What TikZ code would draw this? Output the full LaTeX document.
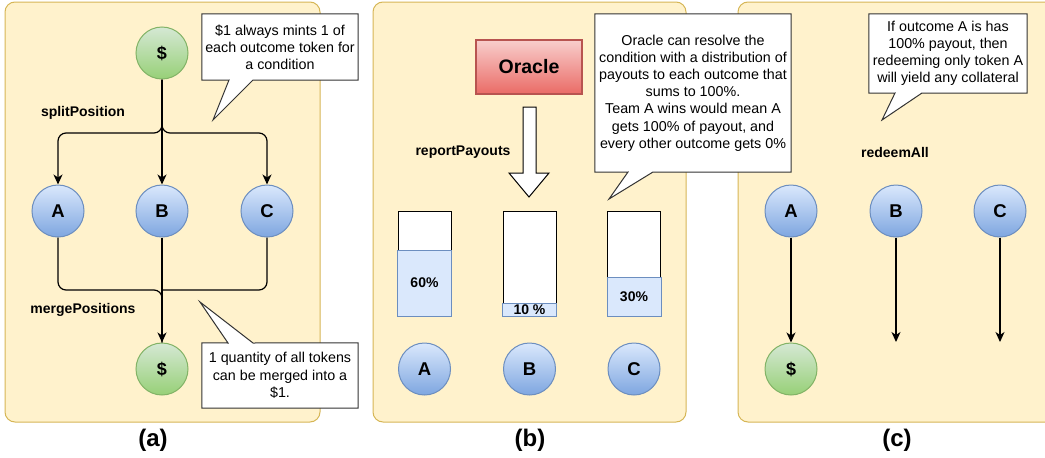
\documentclass[tikz,border=0pt]{standalone}
\usepackage{fontspec}
\setmainfont{Liberation Sans}
\usetikzlibrary{arrows.meta,positioning}
\definecolor{panelfill}{HTML}{FFF2CC}
\definecolor{paneldraw}{HTML}{D6B656}
\definecolor{greentop}{HTML}{D5E8D4}
\definecolor{greenbot}{HTML}{97D077}
\definecolor{greendraw}{HTML}{82B366}
\definecolor{bluetop}{HTML}{DAE8FC}
\definecolor{bluebot}{HTML}{7EA6E0}
\definecolor{bluedraw}{HTML}{6C8EBF}
\definecolor{redtop}{HTML}{F8CECC}
\definecolor{redbot}{HTML}{EA6B66}
\definecolor{reddraw}{HTML}{B85450}
\tikzset{
  panel/.style={draw=paneldraw, fill=panelfill, rounded corners=10pt, line width=1pt},
  coin/.style={circle, minimum size=52pt, inner sep=0pt, draw=greendraw, line width=1pt,
    top color=greentop, bottom color=greenbot, font=\bfseries\fontsize{18}{18}\selectfont},
  token/.style={circle, minimum size=52pt, inner sep=0pt, draw=bluedraw, line width=1pt,
    top color=bluetop, bottom color=bluebot, font=\bfseries\fontsize{18.5}{18.5}\selectfont},
  oraclebox/.style={draw=reddraw, line width=1.5pt, top color=redtop, bottom color=redbot,
    minimum width=106pt, minimum height=54pt, font=\bfseries\fontsize{19.5}{19.5}\selectfont},
  bar/.style={draw=black, fill=white, line width=1pt, minimum width=53pt, minimum height=105pt, inner sep=0pt},
  share/.style={draw=bluedraw, fill=bluetop, line width=1pt},
  note/.style={align=center, inner sep=0pt, font=\fontsize{14.3}{17.2}\selectfont},
  notebox/.style={draw=black!80, fill=white, line width=1pt},
  fname/.style={font=\bfseries\fontsize{14}{14}\selectfont},
  caption/.style={font=\bfseries\fontsize{24}{24}\selectfont},
  link/.style={->, line width=1.2pt},
}
\begin{document}
\begin{tikzpicture}[x=1pt, y=-1pt, >={Stealth[length=10pt,width=9pt,inset=3pt]}]
  \useasboundingbox (0,0) rectangle (1045,458);
  % panels
  \draw[panel] (5,2) rectangle (320,422);
  \draw[panel] (373,2) rectangle (686,422);
  \draw[panel] (738,2) rectangle (1060,422);

  % (a) split and merge
  \node[coin] (a0_0) at (162,53) {\$};
  \node[token] (a1_0) at (58,211) {A};
  \node[token] (a1_1) at (162,211) {B};
  \node[token] (a1_2) at (267,211) {C};
  \node[coin] (a2_0) at (162,369) {\$};
  \coordinate (asplit) at (162,133);
  \coordinate (amerge) at (162,290);
  \node[fname] (a_split) at (83,113) {splitPosition};
  \node[fname] (a_merge) at (83,310) {mergePositions};
  \draw[link, rounded corners=8pt] (a0_0.south) -- (asplit) -| (a1_0.north);
  \draw[link, rounded corners=8pt] (a0_0.south) -- (asplit) -| (a1_2.north);
  \draw[link] (a0_0.south) -- (a1_1.north);
  \draw[rounded corners=8pt, line width=1.2pt] (a1_0.south) |- (amerge) -- (a2_0.north);
  \draw[rounded corners=8pt, line width=1.2pt] (a1_2.south) |- (amerge);
  \draw[link] (a1_1.south) -- (a2_0.north);
  % (a) notes
  \node[note, minimum width=156pt, minimum height=66pt] (a_note0) at (280,47) {};
  \draw[notebox] (a_note0.north west) -- (a_note0.north east) -- (a_note0.south east)
    -- (253,80) -- (213,120) -- (229,80) -- (a_note0.south west) -- cycle;
  \node[note] at (a_note0) {\$1 always mints 1 of\\each outcome token for\\a condition};
  \node[note, minimum width=156pt, minimum height=65pt] (a_note1) at (280,375.5) {};
  \draw[notebox] (a_note1.south west) -- (a_note1.north west) -- (228,343) -- (200,302)
    -- (253,343) -- (a_note1.north east) -- (a_note1.south east) -- cycle;
  \node[note] at (a_note1) {1 quantity of all tokens\\can be merged into a\\\$1.};
  \node[caption] (a_cap) at (153,440) {(a)};

  % (b) oracle payouts
  \node[oraclebox] (b0_0) at (529,67) {Oracle};
  \draw[fill=white, line width=1pt] (523,107) -- (536,107) -- (536,173) -- (549,173)
    -- (529,197) -- (509,173) -- (523,173) -- cycle;
  \node[fname] (b_report) at (463,152) {reportPayouts};
  \node[bar] (b1_0) at (424.5,263.5) {};
  \node[bar] (b1_1) at (529.5,263.5) {};
  \node[bar] (b1_2) at (634,263.5) {};
  \draw[share] (b1_0.south west) rectangle (b1_0.east |- 0,250);
  \draw[share] (b1_1.south west) rectangle (b1_1.east |- 0,303);
  \draw[share] (b1_2.south west) rectangle (b1_2.east |- 0,277);
  \node[fname] at (424.5,283) {60\%};
  \node[fname] at (529.5,310) {10 \%};
  \node[fname] at (634,297) {30\%};
  \node[token] (b2_0) at (424.5,369) {A};
  \node[token] (b2_1) at (529.5,369) {B};
  \node[token] (b2_2) at (634,369) {C};
  % (b) note
  \node[note, minimum width=196pt, minimum height=158pt] (b_note) at (693,93) {};
  \draw[notebox] (b_note.north west) -- (b_note.north east) -- (b_note.south east)
    -- (653,172) -- (609,199) -- (628,172) -- (b_note.south west) -- cycle;
  \node[note] at (b_note) {Oracle can resolve the\\condition with a distribution of\\payouts to each outcome that\\sums to 100\%.\\Team A wins would mean A\\gets 100\% of payout, and\\every other outcome gets 0\%};
  \node[caption] (b_cap) at (530,440) {(b)};

  % (c) redeem
  \node[token] (c1_0) at (791,211) {A};
  \node[token] (c1_1) at (896,211) {B};
  \node[token] (c1_2) at (1000,211) {C};
  \node[coin] (c2_0) at (791,369) {\$};
  \coordinate (c2_1) at (896,342);
  \coordinate (c2_2) at (1000,342);
  \node[fname] (c_redeem) at (895,152) {redeemAll};
  \draw[link] (c1_0.south) -- (c2_0.north);
  \draw[link] (c1_1.south) -- (c2_1);
  \draw[link] (c1_2.south) -- (c2_2);
  % (c) note
  \node[note, minimum width=158pt, minimum height=79pt] (c_note) at (948,53.5) {};
  \draw[notebox] (c_note.north west) -- (c_note.north east) -- (c_note.south east)
    -- (922,93) -- (882,120) -- (895,93) -- (c_note.south west) -- cycle;
  \node[note] at (c_note) {If outcome A is has\\100\% payout, then\\redeeming only token A\\will yield any collateral};
  \node[caption] (c_cap) at (897,440) {(c)};
\end{tikzpicture}
\end{document}
